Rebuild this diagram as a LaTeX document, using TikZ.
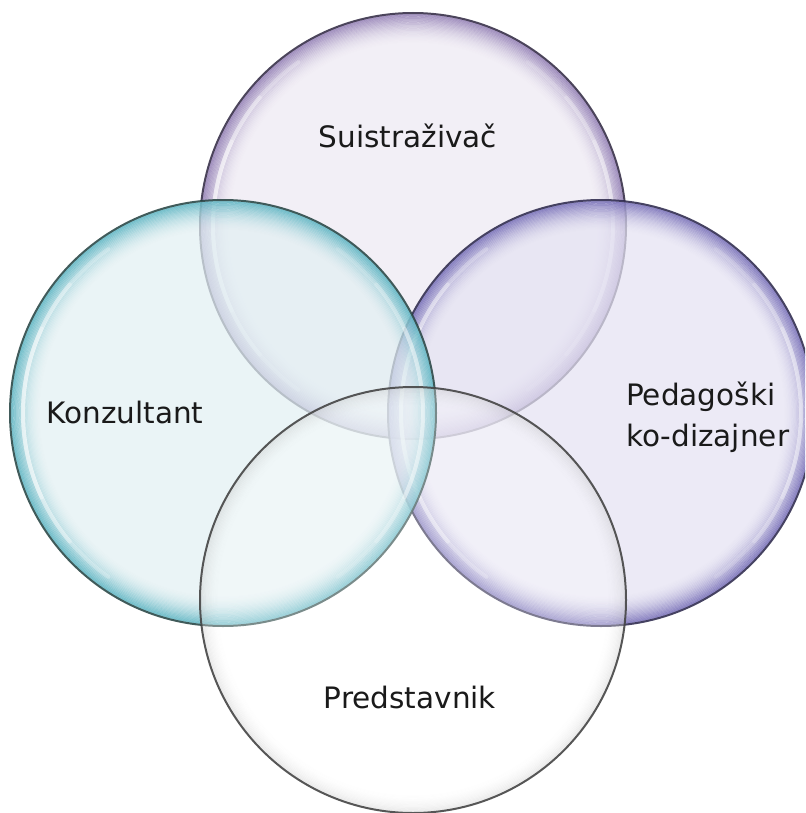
\documentclass[tikz,border=0pt]{standalone}
\usepackage{fontspec}
\setmainfont{DejaVu Sans}
\definecolor{topfill}{HTML}{EEEAF3}
\definecolor{toprim}{HTML}{7A62A4}
\definecolor{topline}{HTML}{2E2640}
\definecolor{leftfill}{HTML}{E2F0F3}
\definecolor{leftrim}{HTML}{3AA5B6}
\definecolor{leftline}{HTML}{22403F}
\definecolor{rightfill}{HTML}{E5E3F3}
\definecolor{rightrim}{HTML}{5A50A8}
\definecolor{rightline}{HTML}{282448}
\definecolor{botline}{HTML}{444444}
\definecolor{txt}{HTML}{1A1A1A}
\newcommand\glossycircle[5]{%
  \coordinate (#1) at (#2);
  \fill[#3, fill opacity=0.72] (#1) circle (213pt);
  \foreach \k in {0,...,24} {
    \pgfmathsetmacro\op{0.6*(1-\k/25)^2}
    \pgfmathsetmacro\rr{211.5-\k*1.2}
    \draw[#4, line width=1.4pt, opacity=\op] (#1) circle (\rr pt);
  }
  \foreach \a/\b/\o in {125/235/0.25,140/220/0.3,155/205/0.35,-55/55/0.15,-40/40/0.2,-25/25/0.25} {
    \draw[white, line width=4pt, opacity=\o, line cap=round] (#1) ++(\a:200pt) arc[start angle=\a, end angle=\b, radius=200pt];
  }
  \draw[#5, line width=2pt, opacity=0.85] (#1) circle (213pt);
}
\begin{document}
\begin{tikzpicture}[x=1pt,y=-1pt]
\useasboundingbox (0,0) rectangle (805,813);
\fill[white] (0,0) rectangle (805,813);
\begin{scope}
\clip (0,0) rectangle (805,813);
\glossycircle{ctop}{413,226}{topfill}{toprim}{topline}
\glossycircle{cright}{601,413}{rightfill}{rightrim}{rightline}
\glossycircle{cleft}{223,413}{leftfill}{leftrim}{leftline}
\coordinate (cbot) at (413,600);
\fill[white, fill opacity=0.3] (cbot) circle (213pt);
\foreach \k in {0,...,14} {
  \pgfmathsetmacro\op{0.12*(1-\k/15)^2}
  \pgfmathsetmacro\rr{211.5-\k*1.2}
  \draw[gray, line width=1.4pt, opacity=\op] (cbot) circle (\rr pt);
}
\draw[botline, line width=2pt, opacity=0.9] (cbot) circle (213pt);
\end{scope}
\tikzset{lbl/.style={text=txt, font=\fontsize{29.5}{41}\selectfont, inner sep=0pt}}
\node[lbl] (tsuis) at (408,136) {Suistraživač};
\node[lbl] (tkonz) at (125,412) {Konzultant};
\node[lbl, anchor=west, align=left] (tped) at (626,417) {Pedagoški\\ko-dizajner};
\node[lbl] (tpred) at (410,697) {Predstavnik};
\end{tikzpicture}
\end{document}
